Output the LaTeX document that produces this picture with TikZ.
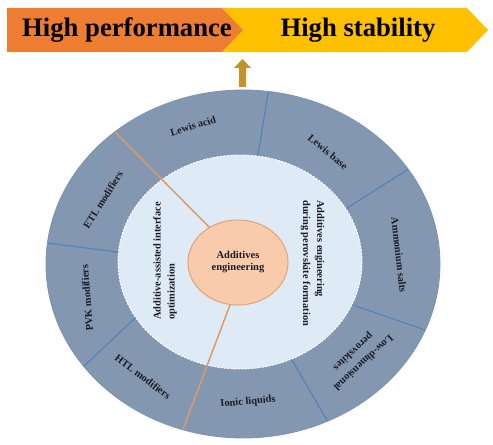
\documentclass[tikz,border=0pt]{standalone}
\usepackage{fontspec}
\setmainfont{Liberation Serif}
\usetikzlibrary{calc,shapes.geometric}
\definecolor{ringc}{HTML}{8497B0}
\definecolor{ringedge}{HTML}{7A93B8}
\definecolor{innerc}{HTML}{DEEAF6}
\definecolor{centc}{HTML}{F8CBAD}
\definecolor{centedge}{HTML}{E3A678}
\definecolor{divblue}{HTML}{4F81BD}
\definecolor{divorange}{HTML}{DC9A68}
\definecolor{hdrorange}{HTML}{ED7D31}
\definecolor{hdryellow}{HTML}{FFC000}
\definecolor{arrowc}{HTML}{C4922A}
\definecolor{txt}{HTML}{1C1C24}
\begin{document}
\begin{tikzpicture}[x=0.75pt,y=-0.75pt,
  ringlab/.style={font=\fontsize{7.8}{9}\selectfont\bfseries, inner sep=0pt, align=center, text=txt},
  innerlab/.style={font=\fontsize{7.8}{10.5}\selectfont\bfseries, inner sep=0pt, align=left, text=txt},
  hdrlab/.style={font=\fontsize{20}{24}\selectfont\bfseries, inner sep=0pt, text=black},
  bluediv/.style={draw=divblue, line width=0.8pt},
  orangediv/.style={draw=divorange, line width=1.1pt}]
\useasboundingbox (0,0) rectangle (493,445);
% header banner
\fill[hdryellow] (222,8) -- (467,8) -- (488,30) -- (467,52) -- (222,52) -- (243,30) -- cycle;
\fill[hdrorange] (7,8) -- (222,8) -- (243,30) -- (222,52) -- (7,52) -- cycle;
\node[hdrlab] (perf) at (127,30) {High performance};
\node[hdrlab] (stab) at (358,30) {High stability};
% up arrow
\fill[arrowc] (239,87) -- (239,68) -- (234,68) -- (242.5,59) -- (251,68) -- (246,68) -- (246,87) -- cycle;
% outer ring
\filldraw[fill=ringc, draw=ringedge, line width=0.6pt] (243,264) ellipse [x radius=197, y radius=174];
\begin{scope}
\clip (243,264) ellipse [x radius=196.5, y radius=173.5];
\coordinate (b1i) at (258,155); \coordinate (b1o) at (268,93);
\coordinate (b2i) at (347,208); \coordinate (b2o) at (407,170);
\coordinate (b3i) at (353,305); \coordinate (b3o) at (425,330);
\coordinate (b4i) at (292,360); \coordinate (b4o) at (328,422);
\coordinate (b6i) at (133,320); \coordinate (b6o) at (83,367);
\coordinate (b7i) at (117,252); \coordinate (b7o) at (48,243);
\foreach \k in {1,2,3,4,6,7}{
  \draw[bluediv] ($(b\k i)!-0.25!(b\k o)$) -- ($(b\k o)!-0.25!(b\k i)$);
}
\end{scope}
% inner disc
\filldraw[fill=innerc, draw=white, line width=0.7pt, dash pattern=on 1.6pt off 1pt] (240,262) ellipse [x radius=122, y radius=107];
% orange dividers
\begin{scope}
\clip (243,264) ellipse [x radius=196.5, y radius=173.5];
\coordinate (o1c) at (230,305); \coordinate (o1o) at (182,432);
\coordinate (o2c) at (210,228); \coordinate (o2o) at (116,133);
\draw[orangediv] ($(o1c)!-0.1!(o1o)$) -- ($(o1o)!-0.1!(o1c)$);
\draw[orangediv] ($(o2c)!-0.1!(o2o)$) -- ($(o2o)!-0.1!(o2c)$);
\end{scope}
% centre
\node[ellipse, fill=centc, draw=centedge, line width=0.8pt, minimum width=75pt, minimum height=63.75pt, inner sep=0pt,
  font=\fontsize{7.9}{9}\selectfont\bfseries, align=center, text=txt] (cen) at (238,262.5) {Additives\\engineering};
% inner labels
\node[innerlab, rotate=90, anchor=west] (leftlab) at (165,320) {Additive-assisted interface\\optimization};
\node[innerlab, rotate=-90, anchor=west] (rightlab) at (312.5,200) {Additives engineering\\during perovskite formation};
% ring labels
\node[ringlab, rotate=17] (la) at (193,126) {Lewis acid};
\node[ringlab, rotate=-40] (lb) at (328,152) {Lewis base};
\node[ringlab, rotate=-83.5] (am) at (399,255) {Ammonium salts};
\node[ringlab, rotate=-137, font=\fontsize{7.8}{11}\selectfont\bfseries] (ld) at (358,357) {Low-dimensional\\perovskites};
\node[ringlab, rotate=5] (il) at (248,402) {Ionic liquids};
\node[ringlab, rotate=-37] (htl) at (143,377) {HTL modifiers};
\node[ringlab, rotate=94.5] (pvk) at (87,298) {PVK modifiers};
\node[ringlab, rotate=58] (etl) at (103,200) {ETL modifiers};
\end{tikzpicture}
\end{document}
